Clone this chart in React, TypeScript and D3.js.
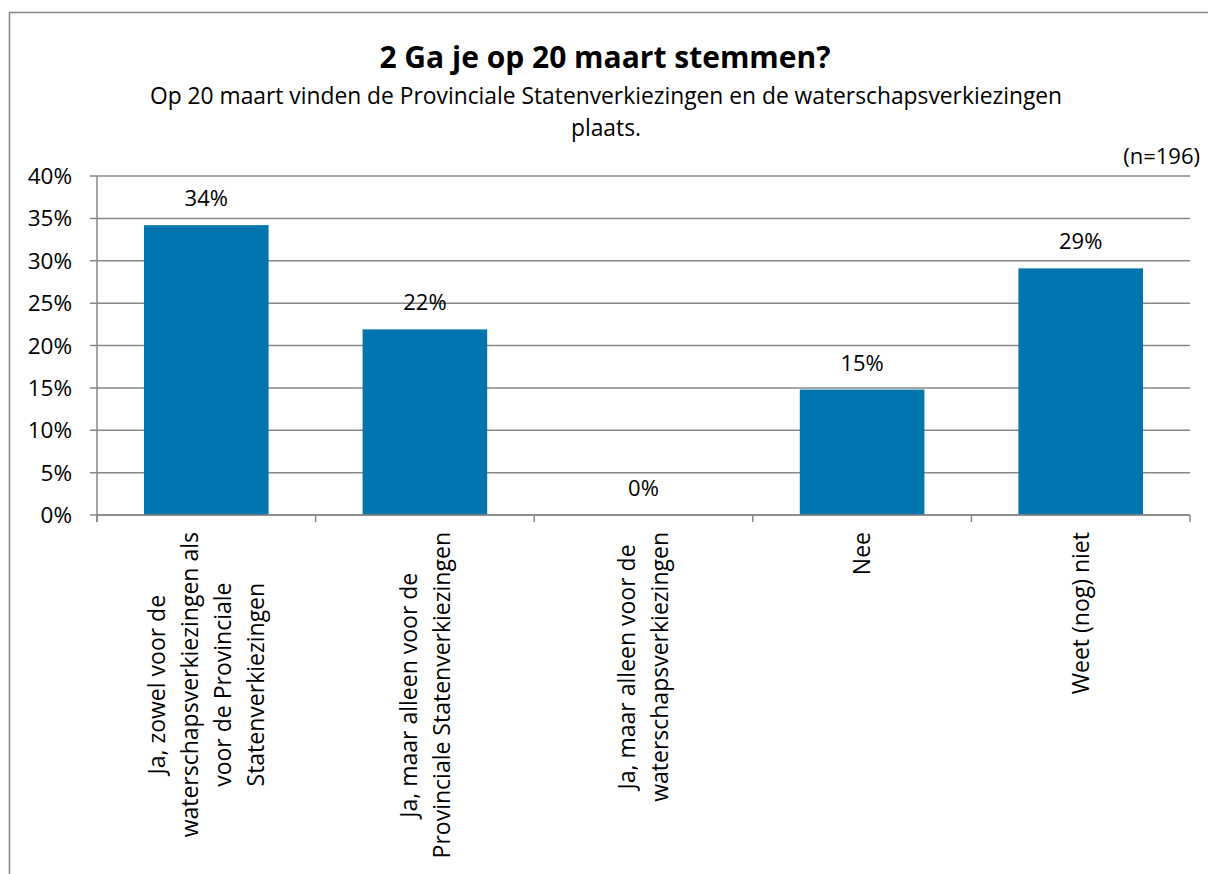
import React, { useEffect, useRef } from 'react';
import * as d3 from 'd3';

const categories = [
  ['Ja, zowel voor de', 'waterschapsverkiezingen als', 'voor de Provinciale', 'Statenverkiezingen'],
  ['Ja, maar alleen voor de', 'Provinciale Statenverkiezingen'],
  ['Ja, maar alleen voor de', 'waterschapsverkiezingen'],
  ['Nee'],
  ['Weet (nog) niet'],
];
const values = [0.342, 0.219, 0, 0.148, 0.291];
const valueLabels = ['34%', '22%', '0%', '15%', '29%'];
const yTicks = [0, 0.05, 0.1, 0.15, 0.2, 0.25, 0.3, 0.35, 0.4];

const title = '2 Ga je op 20 maart stemmen?';
const subtitle = ['Op 20 maart vinden de Provinciale Statenverkiezingen en de waterschapsverkiezingen', 'plaats.'];
const note = '(n=196)';

const W = 1208;
const H = 874;
const font = "'Open Sans', sans-serif";
const grey = '#878787';
const blue = '#0176AE';

export default function App() {
  const svgRef = useRef<SVGSVGElement>(null);

  useEffect(() => {
    const svg = d3.select(svgRef.current);
    svg.selectAll('*').remove();

    const left = 97, right = 1190, top = 176, bottom = 515;

    const x = d3.scaleBand<number>()
      .domain(d3.range(values.length))
      .range([left, right])
      .paddingInner(0.43)
      .paddingOuter(0.215);
    const step = (right - left) / values.length;
    const y = d3.scaleLinear().domain([0, 0.4]).range([bottom, top]);

    // chart border
    svg.append('rect')
      .attr('x', 9.5).attr('y', 12.5)
      .attr('width', 1220).attr('height', 900)
      .attr('fill', 'white').attr('stroke', grey).attr('stroke-width', 1.5);

    // title
    svg.append('text')
      .attr('x', 605).attr('y', 68)
      .attr('text-anchor', 'middle')
      .style('font-family', font).style('font-weight', 'bold').style('font-size', '30px')
      .text(title);

    svg.selectAll('text.sub')
      .data(subtitle)
      .join('text')
      .attr('class', 'sub')
      .attr('x', 606)
      .attr('y', (_, i) => 104 + i * 32)
      .attr('text-anchor', 'middle')
      .style('font-family', font).style('font-size', '22.8px')
      .text(d => d);

    svg.append('text')
      .attr('x', 1200).attr('y', 164)
      .attr('text-anchor', 'end')
      .style('font-family', font).style('font-size', '22px')
      .text(note);

    // gridlines + y labels
    const g = svg.append('g');
    g.selectAll('line.grid')
      .data(yTicks)
      .join('line')
      .attr('class', 'grid')
      .attr('x1', left - 7).attr('x2', right)
      .attr('y1', d => y(d)).attr('y2', d => y(d))
      .attr('stroke', grey).attr('stroke-width', 1.5);

    g.selectAll('text.ytick')
      .data(yTicks)
      .join('text')
      .attr('class', 'ytick')
      .attr('x', 72)
      .attr('y', d => y(d))
      .attr('dy', '0.36em')
      .attr('text-anchor', 'end')
      .style('font-family', font).style('font-size', '22.5px')
      .text(d => `${Math.round(d * 100)}%`);

    // y axis line
    g.append('line')
      .attr('x1', left).attr('x2', left)
      .attr('y1', top).attr('y2', bottom + 7)
      .attr('stroke', grey).attr('stroke-width', 1.5);

    // x ticks
    g.selectAll('line.xtick')
      .data(d3.range(values.length + 1))
      .join('line')
      .attr('class', 'xtick')
      .attr('x1', d => left + d * step).attr('x2', d => left + d * step)
      .attr('y1', bottom).attr('y2', bottom + 7)
      .attr('stroke', grey).attr('stroke-width', 1.5);

    // bars
    svg.selectAll('rect.bar')
      .data(values)
      .join('rect')
      .attr('class', 'bar')
      .attr('x', (_, i) => x(i)!)
      .attr('width', x.bandwidth())
      .attr('y', d => y(d))
      .attr('height', d => bottom - y(d))
      .attr('fill', blue);

    // x axis line over bars
    svg.append('line')
      .attr('x1', left).attr('x2', right)
      .attr('y1', bottom).attr('y2', bottom)
      .attr('stroke', grey).attr('stroke-width', 1.5);

    // value labels
    svg.selectAll('text.val')
      .data(values)
      .join('text')
      .attr('class', 'val')
      .attr('x', (_, i) => x(i)! + x.bandwidth() / 2)
      .attr('y', d => y(d) - 19)
      .attr('text-anchor', 'middle')
      .style('font-family', font).style('font-size', '22px')
      .text((_, i) => valueLabels[i]);

    // rotated category labels
    const lineH = 33;
    categories.forEach((lines, i) => {
      const cx = x(i)! + x.bandwidth() / 2;
      const lg = svg.append('g')
        .attr('transform', `translate(${cx},532) rotate(-90)`);
      const texts = lg.selectAll('text')
        .data(lines)
        .join('text')
        .attr('y', (_, j) => (j - (lines.length - 1) / 2) * lineH)
        .attr('dy', '0.36em')
        .attr('text-anchor', 'middle')
        .style('font-family', font).style('font-size', '23px')
        .text(d => d);
      let maxW = 0;
      texts.each(function () {
        maxW = Math.max(maxW, (this as SVGTextElement).getComputedTextLength());
      });
      texts.attr('x', -maxW / 2);
    });
  }, []);

  return (
    <svg ref={svgRef} width={W} height={H}
      style={{ position: 'absolute', left: 0, top: 0, background: 'white' }} />
  );
}
